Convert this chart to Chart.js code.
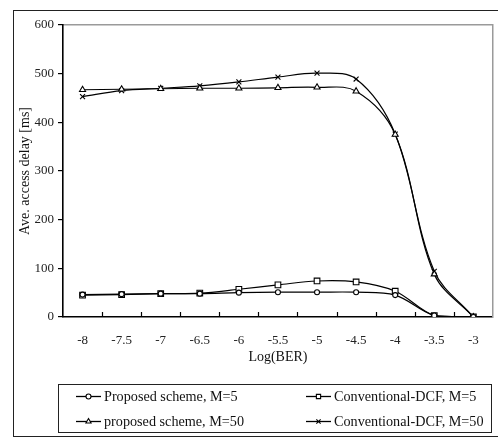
<!DOCTYPE html>
<html>
<head>
<meta charset="utf-8">
<script src="https://cdn.jsdelivr.net/npm/chart.js@4/dist/chart.umd.min.js"></script>
<style>
  html, body { margin: 0; padding: 0; background: #fff; }
  #wrap { position: relative; width: 498px; height: 439px; }
  #frame { position: absolute; left: 13px; top: 10px; width: 500px; height: 427px; border: 1px solid #222; box-sizing: border-box; pointer-events: none; }
  canvas { position: absolute; left: 0; top: 0; }
</style>
</head>
<body>
<div id="wrap">
  <canvas id="c" width="498" height="439"></canvas>
  <div id="frame"></div>
</div>
<script>
// ---- data ----
const categories = ['-8', '-7.5', '-7', '-6.5', '-6', '-5.5', '-5', '-4.5', '-4', '-3.5', '-3'];
const proposedM5 = [46, 47, 48, 48, 50, 51, 51, 51, 45, 3, 0];
const conventionalM5 = [45, 46, 48, 49, 57, 66, 74, 72, 53, 3, 0];
const proposedM50 = [467, 468, 469, 470, 470, 471, 472, 464, 375, 88, 0];
const conventionalM50 = [453, 465, 470, 475, 483, 493, 501, 489, 376, 94, 0];
const seriesNames = ['Proposed scheme, M=5', 'Conventional-DCF, M=5', 'proposed scheme, M=50', 'Conventional-DCF, M=50'];
const yTicks = [0, 100, 200, 300, 400, 500, 600];
const xTitle = 'Log(BER)';
const yTitle = 'Ave. access delay [ms]';

const FONT = '"Liberation Serif", "Times New Roman", serif';

function ds(label, data, style, radius) {
  return {
    label: label,
    data: data,
    borderColor: '#000',
    borderWidth: 1.2,
    backgroundColor: '#fff',
    pointStyle: style,
    pointRadius: radius,
    pointBorderColor: '#000',
    pointBackgroundColor: '#fff',
    pointBorderWidth: 1.1,
    tension: 0.35,
    fill: false
  };
}

const datasets = [
  ds(seriesNames[0], proposedM5, 'circle', 2.5),
  ds(seriesNames[1], conventionalM5, 'rect', 4),
  ds(seriesNames[2], proposedM50, 'triangle', 3.5),
  ds(seriesNames[3], conventionalM50, 'crossRot', 3.5)
];

// inward tick marks on the category axis, at category boundaries
const innerTicks = {
  id: 'innerTicks',
  afterDraw(chart) {
    const xs = chart.scales.x;
    const ctx = chart.ctx;
    const yb = chart.chartArea.bottom;
    ctx.save();
    ctx.strokeStyle = '#000';
    ctx.lineWidth = 1.2;
    for (let i = 0; i < categories.length - 1; i++) {
      const px = Math.round((xs.getPixelForValue(i) + xs.getPixelForValue(i + 1)) / 2) + 0.5;
      ctx.beginPath();
      ctx.moveTo(px, yb);
      ctx.lineTo(px, yb - 5);
      ctx.stroke();
    }
    ctx.restore();
  }
};

// legend drawn in a 2x2 bordered box, using dataset styles
const boxLegend = {
  id: 'boxLegend',
  afterDraw(chart) {
    const ctx = chart.ctx;
    ctx.save();
    const bx = 58, by = 384, bw = 433, bh = 48;
    ctx.strokeStyle = '#222';
    ctx.lineWidth = 1;
    ctx.strokeRect(bx + 0.5, by + 0.5, bw, bh);
    const cols = [76, 306];
    const rows = [396.5, 421.5];
    const order = [[0, 0, 0], [1, 1, 0], [2, 0, 1], [3, 1, 1]];
    ctx.font = '14.2px ' + FONT;
    ctx.textBaseline = 'middle';
    ctx.textAlign = 'left';
    order.forEach(([i, c, r]) => {
      const d = chart.data.datasets[i];
      const x0 = cols[c], y = rows[r];
      ctx.strokeStyle = '#000';
      ctx.lineWidth = 1.3;
      ctx.beginPath();
      ctx.moveTo(x0, y);
      ctx.lineTo(x0 + 25, y);
      ctx.stroke();
      ctx.fillStyle = '#fff';
      ctx.strokeStyle = '#000';
      ctx.lineWidth = 1.1;
      Chart.helpers.drawPoint(ctx, { pointStyle: d.pointStyle, radius: Math.min(d.pointRadius, 3), rotation: 0, borderWidth: 1.1 }, x0 + 12.5, y);
      ctx.fillStyle = '#111';
      ctx.fillText(d.label, x0 + 28, y + 0.5);
    });
    ctx.restore();
  }
};

new Chart(document.getElementById('c'), {
  type: 'line',
  data: { labels: categories, datasets: datasets },
  plugins: [innerTicks, boxLegend],
  options: {
    responsive: false,
    animation: false,
    layout: { padding: { left: 0, right: 3, top: 25, bottom: 73.6 } },
    plugins: { legend: { display: false }, tooltip: { enabled: false } },
    scales: {
      x: {
        type: 'category',
        position: 'bottom',
        offset: true,
        grid: { display: false, drawTicks: false },
        border: { display: true, color: '#000', width: 1.6 },
        ticks: { color: '#222', font: { family: FONT, size: 13 }, padding: 16, maxRotation: 0, autoSkip: false },
        title: { display: true, text: xTitle, color: '#111', font: { family: FONT, size: 14 }, padding: 0 },
        afterFit(scale) { scale.height = 48.4; }
      },
      x2: {
        type: 'category',
        position: 'top',
        labels: categories,
        grid: { display: false, drawTicks: false },
        border: { display: true, color: '#9a9a9a', width: 1.5 },
        ticks: { display: false },
        afterFit(scale) { scale.height = 0; }
      },
      y: {
        type: 'linear',
        position: 'left',
        min: 0,
        max: 600,
        afterBuildTicks(scale) { scale.ticks = yTicks.map(v => ({ value: v })); },
        grid: { display: true, drawOnChartArea: false, drawTicks: true, tickLength: 5, color: '#000', lineWidth: 1.2 },
        border: { display: true, color: '#000', width: 1.6 },
        ticks: { color: '#222', font: { family: FONT, size: 13 }, padding: 4 },
        title: { display: true, text: yTitle, color: '#111', font: { family: FONT, size: 14 }, padding: { top: 16.6, bottom: 0 } },
        afterFit(scale) { scale.width = 63; }
      },
      y2: {
        type: 'linear',
        position: 'right',
        min: 0,
        max: 600,
        grid: { display: false, drawTicks: false },
        border: { display: true, color: '#9a9a9a', width: 1.5 },
        ticks: { display: false },
        afterFit(scale) { scale.width = 0; }
      }
    }
  }
});
</script>
</body>
</html>
